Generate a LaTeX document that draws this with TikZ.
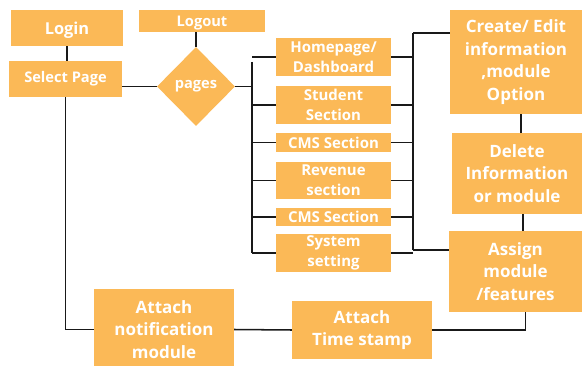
\documentclass[tikz,border=0pt]{standalone}
\usepackage{fontspec}
\setmainfont{Open Sans}
\usetikzlibrary{shapes.geometric, calc}
\definecolor{pageorange}{HTML}{FBB957}
\tikzset{
  blk/.style={fill=pageorange,text=white,align=center,inner sep=0pt},
  sz/.style 2 args={minimum width=#1*0.03cm,minimum height=#2*0.03cm},
  smalltxt/.style={font=\bfseries\fontsize{12.8}{17}\selectfont},
  bigtxt/.style={font=\bfseries\fontsize{14.5}{19.3}\selectfont},
  wire/.style={draw=black!90,line width=1.3pt}
}
\begin{document}
\begin{tikzpicture}[x=0.03cm,y=-0.03cm]
  \clip (0,0) rectangle (582,366);
  \fill[white] (0,0) rectangle (582,366);
  \node[blk,sz={112}{36},text depth=0pt,font=\bfseries\fontsize{14}{16}\selectfont] (login) at (67,28) {Login};
  \node[blk,sz={126}{22},text depth=0pt,font=\bfseries\fontsize{12.5}{14}\selectfont] (logout) at (202,21) {Logout};
  \node[blk,sz={113}{36},font=\bfseries\fontsize{12.5}{14}\selectfont] (select) at (65.5,79) {Select Page};
  \node[blk,diamond,sz={78}{79},font=\bfseries\fontsize{12.5}{14}\selectfont] (pages) at (196,86.5) {pages};
  \node[blk,smalltxt,sz={115}{38}] (home) at (333.5,57) {Homepage/\\Dashboard};
  \node[blk,smalltxt,sz={115}{38}] (student) at (333.5,105) {Student\\Section};
  \node[blk,smalltxt,sz={115}{19}] (cmsa) at (333.5,142.5) {CMS Section};
  \node[blk,smalltxt,sz={115}{37}] (revenue) at (333.5,180.5) {Revenue\\section};
  \node[blk,smalltxt,sz={115}{18}] (cmsb) at (333.5,217) {CMS Section};
  \node[blk,smalltxt,sz={115}{38}] (system) at (333.5,253) {System\\setting};
  \node[blk,bigtxt,sz={132}{104}] (create) at (516,62) {Create/ Edit\\information\\,module\\Option};
  \node[blk,bigtxt,sz={130}{81}] (delete) at (517,173.5) {Delete\\Information\\or module};
  \node[blk,bigtxt,sz={133}{81}] (assign) at (515.5,271.5) {Assign\\module\\/features};
  \node[blk,bigtxt,sz={140}{58}] (stamp) at (362,330) {Attach\\Time stamp};
  \node[blk,bigtxt,sz={140}{81}] (notif) at (164,329.5) {Attach\\notification\\module};
  \coordinate (lbustop) at (252,62);
  \coordinate (lbusbot) at (252,253);
  \coordinate (rbustop) at (413,33);
  \coordinate (rbusbot) at (413,250);
  \draw[wire] (login.south) -- (login.south |- select.north);
  \draw[wire] (pages.north) -- (pages.north |- logout.south);
  \draw[wire] (pages.west) -- (pages.west -| select.east);
  \draw[wire] (pages.east) -- (pages.east -| lbustop);
  \draw[wire] (lbustop) -- (lbusbot);
  \draw[wire] (rbustop) -- (rbusbot);
  \foreach \s in {home,student,cmsa,revenue,cmsb,system}{
    \draw[wire] (\s.west) -- (\s.west -| lbustop);
    \draw[wire] (\s.east) -- (\s.east -| rbustop);}
  \draw[wire] (rbustop) -- (rbustop -| create.west);
  \draw[wire] (rbusbot) -- (rbusbot -| assign.west);
  \draw[wire] ([xshift=5*0.03cm]create.south) -- ([xshift=5*0.03cm]create.south |- delete.north);
  \draw[wire] ([xshift=6*0.03cm]delete.south) -- ([xshift=6*0.03cm]delete.south |- assign.north);
  \draw[wire] (select.south) |- (notif.west);
  \draw[wire] (notif.east) -- (stamp.west);
  \draw[wire] (stamp.east) -| ([xshift=10*0.03cm]assign.south);
\end{tikzpicture}
\end{document}
